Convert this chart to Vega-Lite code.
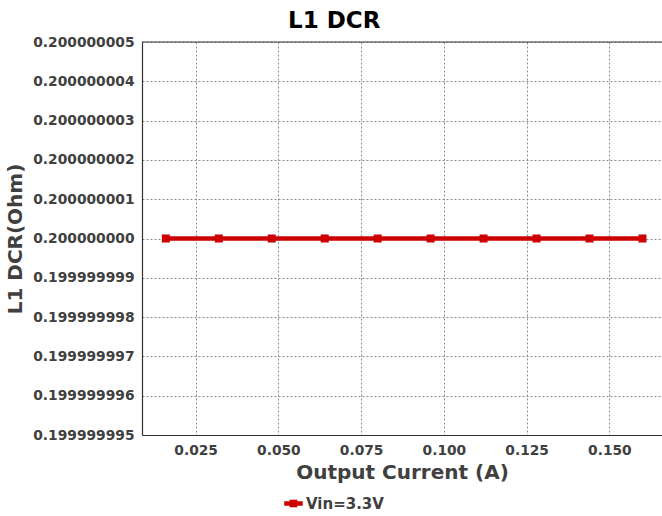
{
  "$schema": "https://vega.github.io/schema/vega-lite/v6.json",
  "autosize": "none",
  "width": 520,
  "height": 393,
  "padding": {"left": 142, "top": 42, "right": 0, "bottom": 81},
  "background": "white",
  "title": {
    "text": "L1 DCR",
    "font": "DejaVu Sans",
    "fontSize": 23,
    "fontWeight": "bold",
    "color": "#000000",
    "anchor": "middle",
    "frame": "bounds",
    "offset": 2
  },
  "config": {
    "view": {"stroke": null},
    "font": "DejaVu Sans",
    "axis": {
      "labelFont": "DejaVu Sans",
      "labelFontSize": 13.8,
      "labelFontWeight": "bold",
      "labelColor": "#404040",
      "labelOverlap": false,
      "labelBound": false,
      "labelFlush": false,
      "titleFont": "DejaVu Sans",
      "titleFontSize": 20,
      "titleFontWeight": "bold",
      "titleColor": "#404040",
      "domainColor": "#333333",
      "domainWidth": 1.2,
      "ticks": false,
      "labelPadding": 8,
      "gridColor": "#8c8c8c",
      "gridDash": [2, 2],
      "gridWidth": 1,
      "gridOpacity": 1
    }
  },
  "datasets": {
    "dcr": [
      {"current": 0.016, "dcr": 0.2, "series": "Vin=3.3V"},
      {"current": 0.032, "dcr": 0.2, "series": "Vin=3.3V"},
      {"current": 0.048, "dcr": 0.2, "series": "Vin=3.3V"},
      {"current": 0.064, "dcr": 0.2, "series": "Vin=3.3V"},
      {"current": 0.080, "dcr": 0.2, "series": "Vin=3.3V"},
      {"current": 0.096, "dcr": 0.2, "series": "Vin=3.3V"},
      {"current": 0.112, "dcr": 0.2, "series": "Vin=3.3V"},
      {"current": 0.128, "dcr": 0.2, "series": "Vin=3.3V"},
      {"current": 0.144, "dcr": 0.2, "series": "Vin=3.3V"},
      {"current": 0.160, "dcr": 0.2, "series": "Vin=3.3V"}
    ]
  },
  "layer": [
    {
      "data": {"name": "dcr"},
      "encoding": {
        "x": {
          "field": "current",
          "type": "quantitative",
          "scale": {"domain": [0.0088, 0.1659], "nice": false, "zero": false},
          "axis": {
            "title": "Output Current (A)",
            "values": [0.025, 0.05, 0.075, 0.1, 0.125, 0.15],
            "format": ".3f",
            "titlePadding": 6
          }
        },
        "y": {
          "field": "dcr",
          "type": "quantitative",
          "scale": {"domain": [0.199999995, 0.200000005], "nice": false, "zero": false},
          "axis": {
            "title": "L1 DCR(Ohm)",
            "values": [0.199999995, 0.199999996, 0.199999997, 0.199999998, 0.199999999, 0.2, 0.200000001, 0.200000002, 0.200000003, 0.200000004, 0.200000005],
            "format": ".9f",
            "titlePadding": 7
          }
        },
        "color": {
          "field": "series",
          "type": "nominal",
          "scale": {"range": ["#cc0000"]},
          "legend": {
            "title": null,
            "orient": "none",
            "legendX": 142,
            "legendY": 452,
            "labelFont": "DejaVu Sans",
            "labelFontSize": 15,
            "labelFontWeight": "bold",
            "labelColor": "#404040",
            "labelOffset": 3,
            "symbolType": "M-1,-0.22H1V0.22H-1Z M-0.4,-0.4H0.4V0.4H-0.4Z",
            "symbolSize": 324,
            "symbolFillColor": "#cc0000",
            "symbolStrokeColor": "#cc0000",
            "symbolStrokeWidth": 0.5,
            "symbolOpacity": 1
          }
        }
      },
      "layer": [
        {"mark": {"type": "line", "strokeWidth": 4.5}},
        {"mark": {"type": "point", "shape": "square", "filled": true, "size": 64, "opacity": 1}}
      ]
    },
    {
      "data": {"values": [{}]},
      "mark": {"type": "rule", "color": "#333333", "strokeWidth": 1.2},
      "encoding": {
        "y": {
          "datum": 0.200000005,
          "type": "quantitative",
          "axis": {
            "title": "L1 DCR(Ohm)",
            "values": [0.199999995, 0.199999996, 0.199999997, 0.199999998, 0.199999999, 0.2, 0.200000001, 0.200000002, 0.200000003, 0.200000004, 0.200000005],
            "format": ".9f",
            "titlePadding": 7
          }
        }
      }
    }
  ]
}
